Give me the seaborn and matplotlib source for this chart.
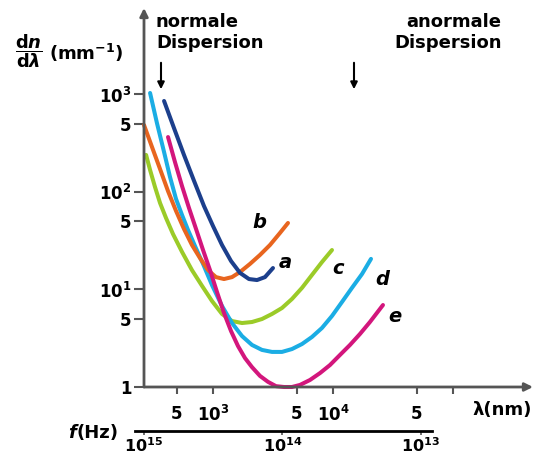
#!/usr/bin/env python

"""
Dispersion curves dn/dlambda vs wavelength (log-log), recreated with seaborn.
"""

import matplotlib

matplotlib.use("Agg")
import matplotlib.pyplot as plt
from matplotlib.patches import FancyArrowPatch
from matplotlib.ticker import FixedLocator, FixedFormatter, NullLocator
import pandas as pd
import seaborn as sns

# wavelength in nm / dn/dlambda in 1/mm
lam_a = [391, 473, 573, 695, 841, 1000, 1189, 1413, 1679, 1995, 2328, 2712, 3162]
dn_a = [858, 453, 240, 130, 71.8, 44.8, 28.6, 19.6, 14.8, 12.8, 12.5, 13.4, 16.6]

lam_b = [266, 310, 362, 422, 492, 573, 668, 779, 909, 1059, 1235, 1440, 1679,
         2034, 2463, 2985, 3615, 4217]
dn_b = [487, 290, 172, 102, 63.9, 41.8, 28.6, 21.0, 15.8, 13.4, 12.8, 13.4,
        15.1, 18.3, 22.6, 28.6, 38.0, 48.1]

lam_c = [277, 299, 329, 362, 406, 464, 552, 668, 810, 981, 1189, 1440, 1745,
         2113, 2560, 3102, 3758, 4550, 5520, 6683, 8091, 9810]
dn_c = [240, 168, 112, 77.1, 54.1, 37.1, 24.3, 15.8, 10.9, 7.62, 5.61, 4.75,
        4.53, 4.64, 4.98, 5.61, 6.46, 7.99, 10.4, 14.1, 19.1, 25.4]

lam_d = [299, 341, 391, 438, 492, 552, 619, 708, 826, 981, 1189, 1440, 1745,
         2113, 2560, 3102, 3758, 4550, 5520, 6683, 8091, 9810, 11890, 14400,
         17450, 20740]
dn_d = [1036, 510, 257, 143, 84.8, 58.1, 40.8, 27.9, 18.3, 11.1, 6.77, 4.53,
        3.33, 2.70, 2.40, 2.29, 2.29, 2.45, 2.76, 3.26, 4.03, 5.35, 7.45, 10.4,
        14.4, 20.6]

lam_e = [422, 482, 552, 631, 722, 826, 944, 1080, 1235, 1413, 1616, 1848, 2113,
         2463, 2872, 3350, 3908, 4550, 5309, 6431, 7798, 9441, 11430, 13860,
         16790, 20320, 26100]
dn_e = [366, 203, 115, 68.5, 41.8, 25.4, 15.8, 9.42, 5.74, 3.75, 2.63, 1.98,
        1.60, 1.30, 1.13, 1.02, 1.0, 1.0, 1.05, 1.18, 1.39, 1.68, 2.13, 2.70,
        3.50, 4.64, 6.93]

curve_names = ["c", "d", "b", "a", "e"]
curve_colors = {"a": "#1c3f8c", "b": "#e8651f", "c": "#9bcb28",
                "d": "#1badE4", "e": "#d3167c"}

lam_ticks = [500, 1000, 5000, 1e4, 5e4, 1e5]
lam_labels = ["5", r"$\mathbf{10^{3}}$", "5", r"$\mathbf{10^{4}}$", "5", ""]
dn_ticks = [1, 5, 10, 50, 100, 500, 1000]
dn_labels = ["1", "5", r"$\mathbf{10^{1}}$", "5", r"$\mathbf{10^{2}}$", "5",
             r"$\mathbf{10^{3}}$"]
f_ticks = [1e15, 1e14, 1e13]
f_labels = [r"$\mathbf{10^{15}}$", r"$\mathbf{10^{14}}$", r"$\mathbf{10^{13}}$"]


def fx(x):
    return x / 540


def fy(y):
    return 1 - y / 461


def main():
    sns.set_style("white")
    plt.rcParams["font.family"] = ["DejaVu Sans"]
    plt.rcParams["font.weight"] = "bold"
    plt.rcParams["mathtext.fontset"] = "dejavusans"
    plt.rcParams["text.color"] = "black"
    plt.rcParams["xtick.labelcolor"] = "black"
    plt.rcParams["ytick.labelcolor"] = "black"

    data = {"a": (lam_a, dn_a), "b": (lam_b, dn_b), "c": (lam_c, dn_c),
            "d": (lam_d, dn_d), "e": (lam_e, dn_e)}
    rows = []
    for name in curve_names:
        lam, dn = data[name]
        for l, d in zip(lam, dn):
            rows.append((name, l, d))
    df = pd.DataFrame(rows, columns=["curve", "lam", "dn"])

    fig = plt.figure(figsize=(5.4, 4.61), dpi=100)
    ax = fig.add_axes([fx(144), fy(387), fx(533) - fx(144), fy(8) - fy(387)])
    ax.set_facecolor("none")

    for name in curve_names:
        sub = df[df["curve"] == name]
        sns.lineplot(data=sub, x="lam", y="dn", color=curve_colors[name],
                     lw=2.9, estimator=None, sort=False, ax=ax, legend=False)
    for line in ax.get_lines():
        line.set_solid_joinstyle("round")
        line.set_solid_capstyle("round")
        line.set_clip_on(False)

    ax.set_xscale("log")
    ax.set_yscale("log")
    ax.set_xlim(10 ** 2.425, 10 ** 5.667)
    ax.set_ylim(1, 10 ** 3.887)
    ax.set_xlabel("")
    ax.set_ylabel("")

    ax.xaxis.set_major_locator(FixedLocator(lam_ticks))
    ax.xaxis.set_major_formatter(FixedFormatter(lam_labels))
    ax.xaxis.set_minor_locator(NullLocator())
    ax.yaxis.set_major_locator(FixedLocator(dn_ticks))
    ax.yaxis.set_major_formatter(FixedFormatter(dn_labels))
    ax.yaxis.set_minor_locator(NullLocator())
    ax.tick_params(axis="x", direction="out", length=5, width=1.5,
                   color="#555555", pad=8, labelsize=12, bottom=True)
    ax.tick_params(axis="y", direction="out", length=7, width=1.5,
                   color="#555555", pad=2, labelsize=12, left=True)
    for lab in ax.get_xticklabels() + ax.get_yticklabels():
        lab.set_fontweight("bold")

    for s in ax.spines.values():
        s.set_visible(False)
    # axes with arrow heads
    ax.annotate("", xy=(1, 0), xytext=(0, 0), xycoords="axes fraction",
                arrowprops=dict(arrowstyle="-|>", color="#555555", lw=2,
                                mutation_scale=12, shrinkA=0, shrinkB=0))
    ax.annotate("", xy=(0, 1), xytext=(0, 0), xycoords="axes fraction",
                arrowprops=dict(arrowstyle="-|>", color="#555555", lw=2,
                                mutation_scale=12, shrinkA=0, shrinkB=0))

    # frequency axis
    fax = fig.add_axes([fx(135), fy(431), fx(432) - fx(135), 0.01])
    fax.set_facecolor("none")
    fax.set_xscale("log")
    fax.set_xlim(10 ** 15.065, 10 ** 12.92)
    fax.xaxis.set_major_locator(FixedLocator(f_ticks))
    fax.xaxis.set_major_formatter(FixedFormatter(f_labels))
    fax.xaxis.set_minor_locator(NullLocator())
    fax.set_yticks([])
    for side in ["top", "left", "right"]:
        fax.spines[side].set_visible(False)
    fax.spines["bottom"].set_linewidth(2)
    fax.spines["bottom"].set_color("black")
    fax.tick_params(axis="x", direction="out", length=3, width=1.2,
                    color="#555555", pad=1, labelsize=11.5, bottom=True)

    # texts
    fig.text(fx(29), fy(51), r"$\dfrac{\mathbf{d}\mathbfit{n}}{\mathbf{d}\lambda}$",
             ha="center", va="center", fontsize=13)
    fig.text(fx(49), fy(53), r"(mm$^{\mathbf{-1}}$)", ha="left", va="center",
             fontsize=13, fontweight="bold")
    fig.text(fx(76), fy(433), "(Hz)", ha="left", va="center", fontsize=13,
             fontweight="bold")
    fig.text(fx(76), fy(433), "f", ha="right", va="center", fontsize=13,
             fontweight="bold", style="italic")
    fig.text(fx(532), fy(410), "λ(nm)", ha="right", va="center", fontsize=13,
             fontweight="bold")

    fig.text(fx(156), fy(22), "normale", ha="left", va="center", fontsize=13,
             fontweight="bold")
    fig.text(fx(156), fy(43), "Dispersion", ha="left", va="center",
             fontsize=13, fontweight="bold")
    fig.text(fx(501), fy(22), "anormale", ha="right", va="center",
             fontsize=13, fontweight="bold")
    fig.text(fx(502), fy(43), "Dispersion", ha="right", va="center",
             fontsize=13, fontweight="bold")
    for x in [161, 354]:
        fig.add_artist(FancyArrowPatch(
            (fx(x), fy(60)), (fx(x), fy(92)), transform=fig.transFigure,
            arrowstyle="-|>", mutation_scale=10, color="black", lw=1.5))

    for name, (x, y) in {"b": (259, 222), "a": (285, 262), "c": (338, 268),
                         "d": (382, 279), "e": (395, 317)}.items():
        fig.text(fx(x), fy(y), name, ha="center", va="center", fontsize=14,
                 fontweight="bold", style="italic")

    fig.savefig("out.png", dpi=100)


if __name__ == "__main__":
    main()
